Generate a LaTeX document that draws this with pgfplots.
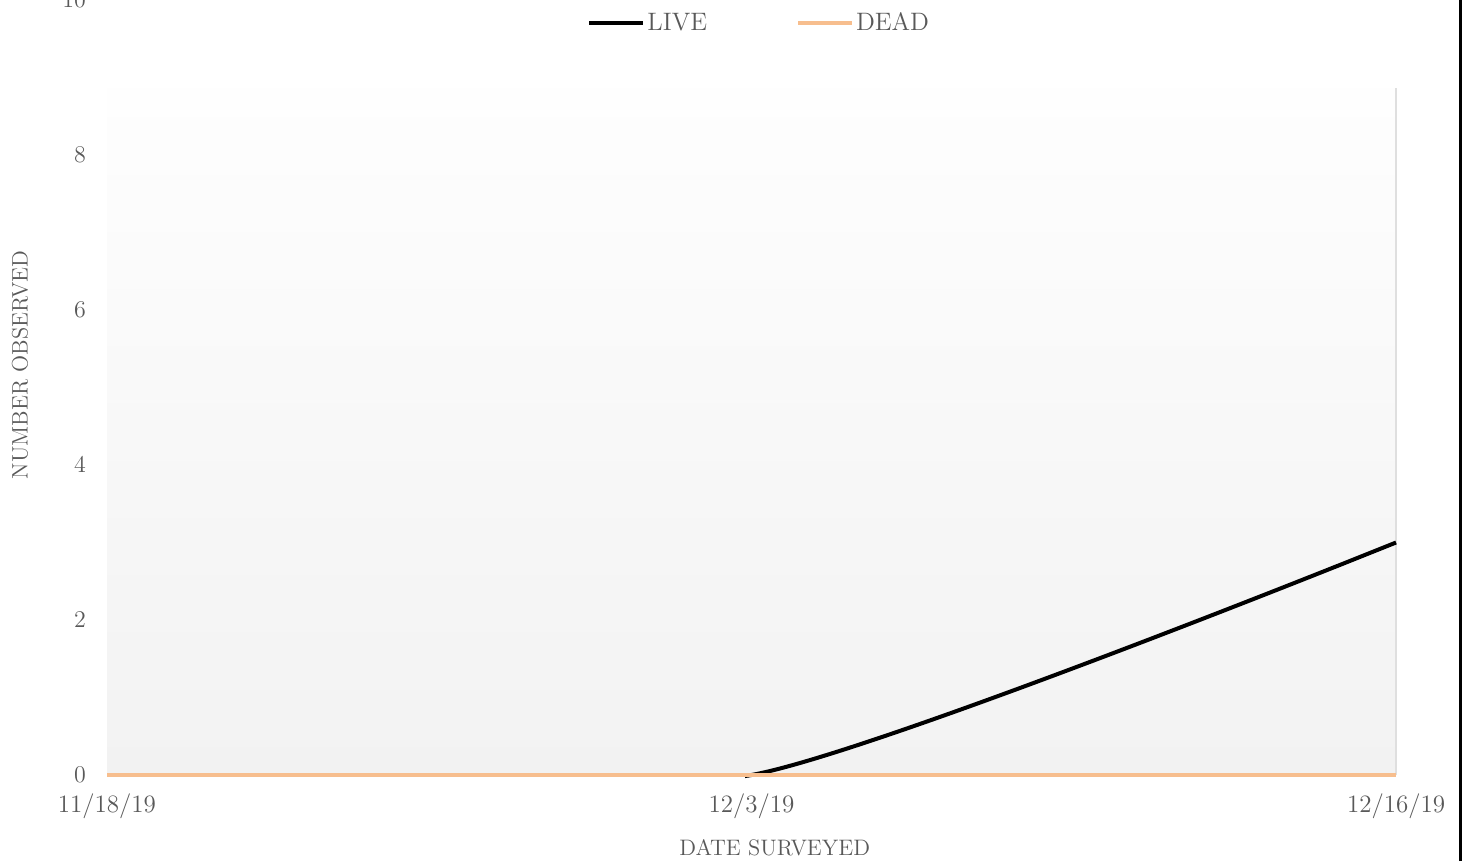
\documentclass[border=0pt]{standalone}
\usepackage{pgfplots}
\pgfplotsset{compat=1.18}
\usetikzlibrary{shadings}

\definecolor{txt}{HTML}{595959}
\definecolor{live}{HTML}{000000}
\definecolor{dead}{RGB}{247,190,142}

\begin{document}
\begin{tikzpicture}
\begin{axis}[
    name=ax,
    at={(0,0)}, anchor=south west,
    scale only axis,
    width=644.5pt, height=387.5pt,
    xmin=0, xmax=2, ymin=0, ymax=10,
    xtick={0,1,2},
    xticklabels={11/18/19,12/3/19,12/16/19},
    ytick={0,2,4,6,8,10},
    axis line style={draw=none},
    tick style={draw=none},
    clip=false,
    every tick label/.append style={font=\fontsize{12.5}{15}\selectfont, text=txt},
    x tick label style={yshift=-6pt},
    y tick label style={xshift=-7pt},
    xlabel={DATE SURVEYED},
    ylabel={NUMBER OBSERVED},
    label style={font=\fontsize{11.2}{13}\selectfont, text=txt},
    xlabel style={at={(rel axis cs:0.518,0)}, anchor=center, yshift=-36.5pt},
    ylabel style={at={(rel axis cs:0,0.529)}, anchor=center, yshift=43.5pt},
    legend style={at={(rel axis cs:0.506,0.970)}, anchor=center, draw=none, fill=none,
        legend columns=2, font=\fontsize{12.6}{15}\selectfont, text=txt,
        nodes={inner xsep=1pt},
        /tikz/every even column/.append style={column sep=43.5pt},
        inner sep=0pt},
    legend image code/.code={\draw[#1] (0pt,0pt) -- (27pt,0pt);},
    legend cell align=left,
]
\fill[top color={rgb,255:red,254;green,254;blue,254}, bottom color={rgb,255:red,242;green,242;blue,242}]
    (axis cs:0,0) rectangle (axis cs:2,8.86);
\draw[gray!25, line width=0.6pt] (axis cs:2,0) -- (axis cs:2,8.86);

% LIVE: flat part, then the smoothed rise (clipped so the spline's dip stays hidden)
\addplot[live, line width=2pt, forget plot] coordinates {
    (0,0) (1,0)
};
\begin{scope}
\clip (axis cs:0.99,-0.2) rectangle (axis cs:2.05,10);
\addplot[live, line width=2pt, smooth, tension=0.35, forget plot] coordinates {
    (0,0) (1,0) (2,3)
};
\end{scope}
\addlegendimage{live, line width=2pt}
\addlegendentry{LIVE}
\addplot[dead, line width=2pt] coordinates {
    (0,0) (1,0) (2,0)
};
\addlegendentry{DEAD}
\end{axis}
\draw[black, line width=1.5pt] (676.5pt,-43pt) -- (676.5pt,387.5pt);
\pgfresetboundingbox
\path (-53.5pt,-43pt) rectangle (679pt,387.5pt);
\end{tikzpicture}
\end{document}
